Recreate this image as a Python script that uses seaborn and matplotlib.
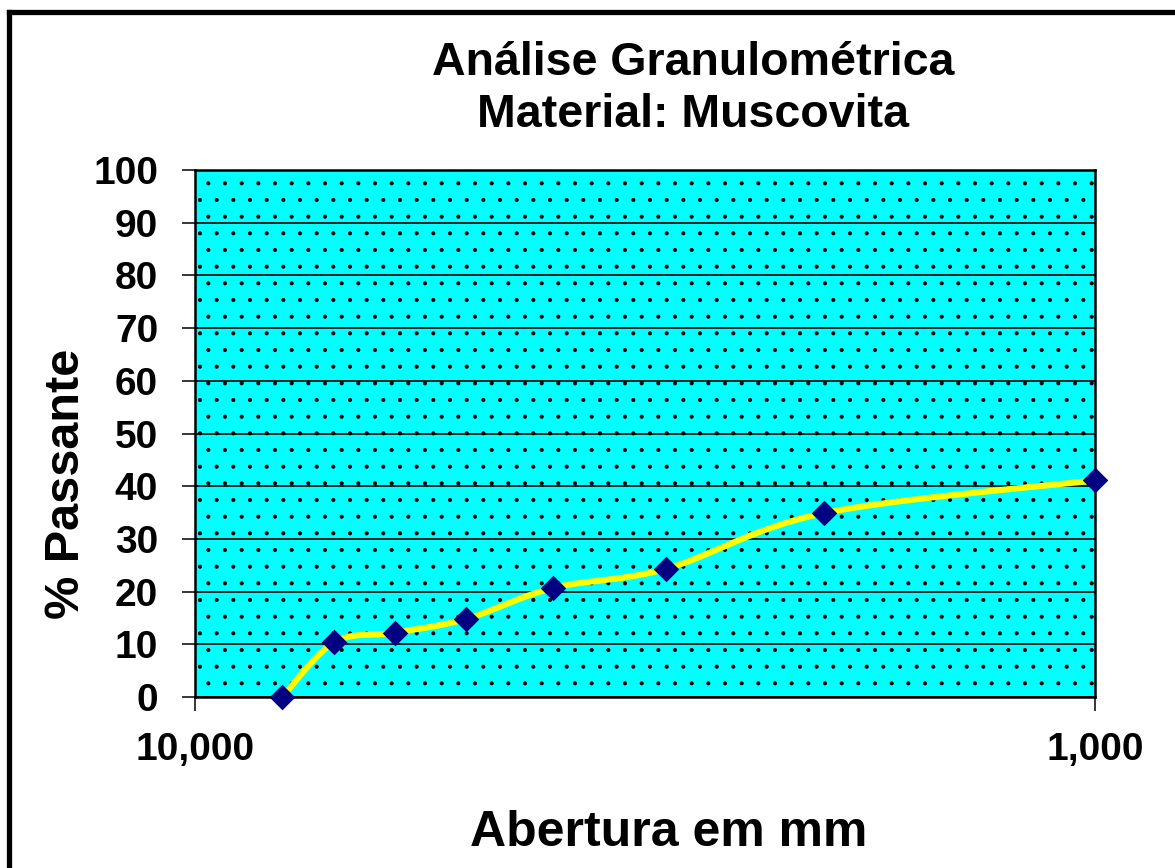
import numpy as np
import matplotlib
matplotlib.use("Agg")
import matplotlib.pyplot as plt
import seaborn as sns
from matplotlib.lines import Line2D
from matplotlib.patches import Rectangle
from matplotlib.ticker import FixedLocator, FixedFormatter, NullLocator

# ---- data ----
aberturas = [8, 7, 6, 5, 4, 3, 2, 1]               # mm
passante = [0, 10.4, 12.2, 14.8, 20.7, 24.3, 34.9, 41.1]  # %
y_ticks = [0, 10, 20, 30, 40, 50, 60, 70, 80, 90, 100]
x_ticks = [10, 1]
x_tick_labels = ["10,000", "1,000"]
title_lines = ["Análise Granulométrica", "Material: Muscovita"]
x_label = "Abertura em mm"
y_label = "% Passante"


def excel_smooth(xs, ys, n=40):
    """Bezier smoothing like a spreadsheet 'smoothed line', in (log x, y) space."""
    u = np.log10(np.asarray(xs, float))
    v = np.asarray(ys, float)
    P = np.column_stack([u, v])
    ext = np.vstack([P[0], P, P[-1]])
    t = np.linspace(0, 1, n)[:, None]
    out = []
    for i in range(len(P) - 1):
        p0, p1, p2, p3 = ext[i], ext[i + 1], ext[i + 2], ext[i + 3]
        c1 = p1 + (p2 - p0) / 6.0
        c2 = p2 - (p3 - p1) / 6.0
        seg = ((1 - t) ** 3) * p1 + 3 * (1 - t) ** 2 * t * c1 + 3 * (1 - t) * t ** 2 * c2 + t ** 3 * p2
        out.append(seg if i == 0 else seg[1:])
    S = np.vstack(out)
    return 10 ** S[:, 0], S[:, 1]


sns.set_theme(style="white")
plt.rcParams['font.family'] = ['Liberation Sans', 'DejaVu Sans']
plt.rcParams['font.weight'] = 'bold'
plt.rcParams['hatch.linewidth'] = 0.5

W, H = 1175, 868
fig = plt.figure(figsize=(W / 100, H / 100), dpi=100)
fig.patch.set_facecolor('white')
L, R, T, B = 195, 1095, 170, 697
ax = fig.add_axes([L / W, 1 - B / H, (R - L) / W, (B - T) / H])

# background with dotted pattern
ax.patch.set_facecolor('white')
bg = Rectangle((0, 0), 1, 1, transform=ax.transAxes, facecolor='#00FFFF',
               edgecolor='black', linewidth=0, hatch='.', zorder=0)
ax.add_patch(bg)

sx, sy = excel_smooth(aberturas, passante)
sns.lineplot(x=sx, y=sy, sort=False, estimator=None, color='#FFFF00',
             linewidth=4.4, ax=ax, zorder=3)
sns.scatterplot(x=aberturas, y=passante, marker='D', s=170, color='#000080',
                edgecolor='#000080', linewidth=0, ax=ax, zorder=4, clip_on=False)

ax.set_xscale('log')
ax.set_xlim(10, 1)
ax.set_ylim(0, 100)
ax.xaxis.set_major_locator(FixedLocator(x_ticks))
ax.xaxis.set_major_formatter(FixedFormatter(x_tick_labels))
ax.xaxis.set_minor_locator(NullLocator())
ax.set_yticks(y_ticks)
ax.set_yticklabels([str(v) for v in y_ticks])

ax.set_axisbelow(True)
ax.grid(axis='y', color='black', linewidth=1.2)
ax.grid(axis='x', visible=False)
for sp in ax.spines.values():
    sp.set_color('black')
    sp.set_linewidth(1.8)
    sp.set_visible(True)

ax.tick_params(axis='y', direction='out', length=9.5, width=1.1, pad=17,
               labelsize=28, colors='black', left=True)
ax.tick_params(axis='x', direction='out', length=10, width=1.1, pad=15,
               labelsize=28, colors='black', bottom=True)
for lab in ax.get_xticklabels() + ax.get_yticklabels():
    lab.set_fontweight('bold')

ax.set_xlabel(x_label, fontsize=36, fontweight='bold', color='black')
ax.set_ylabel(y_label, fontsize=35, fontweight='bold', color='black')
ax.xaxis.set_label_coords((669 - L) / (R - L), -(810 - B) / (B - T))
ax.yaxis.set_label_coords(-(L - 89) / (R - L), (B - 484) / (B - T))

fig.text(693 / W, 1 - 63 / H, title_lines[0], ha='center', va='center',
         fontsize=33.5, fontweight='bold', color='black')
fig.text(693 / W, 1 - 115 / H, title_lines[1], ha='center', va='center',
         fontsize=33.5, fontweight='bold', color='black')

# outer frame (left and top edges visible)
fig.add_artist(Line2D([8.5 / W, 8.5 / W], [0, 1 - 11.5 / H], color='black',
                      linewidth=3.8, solid_capstyle='projecting', transform=fig.transFigure))
fig.add_artist(Line2D([8.5 / W, 1], [1 - 11.5 / H, 1 - 11.5 / H], color='black',
                      linewidth=3.8, solid_capstyle='projecting', transform=fig.transFigure))

fig.savefig('out.png', dpi=100)
